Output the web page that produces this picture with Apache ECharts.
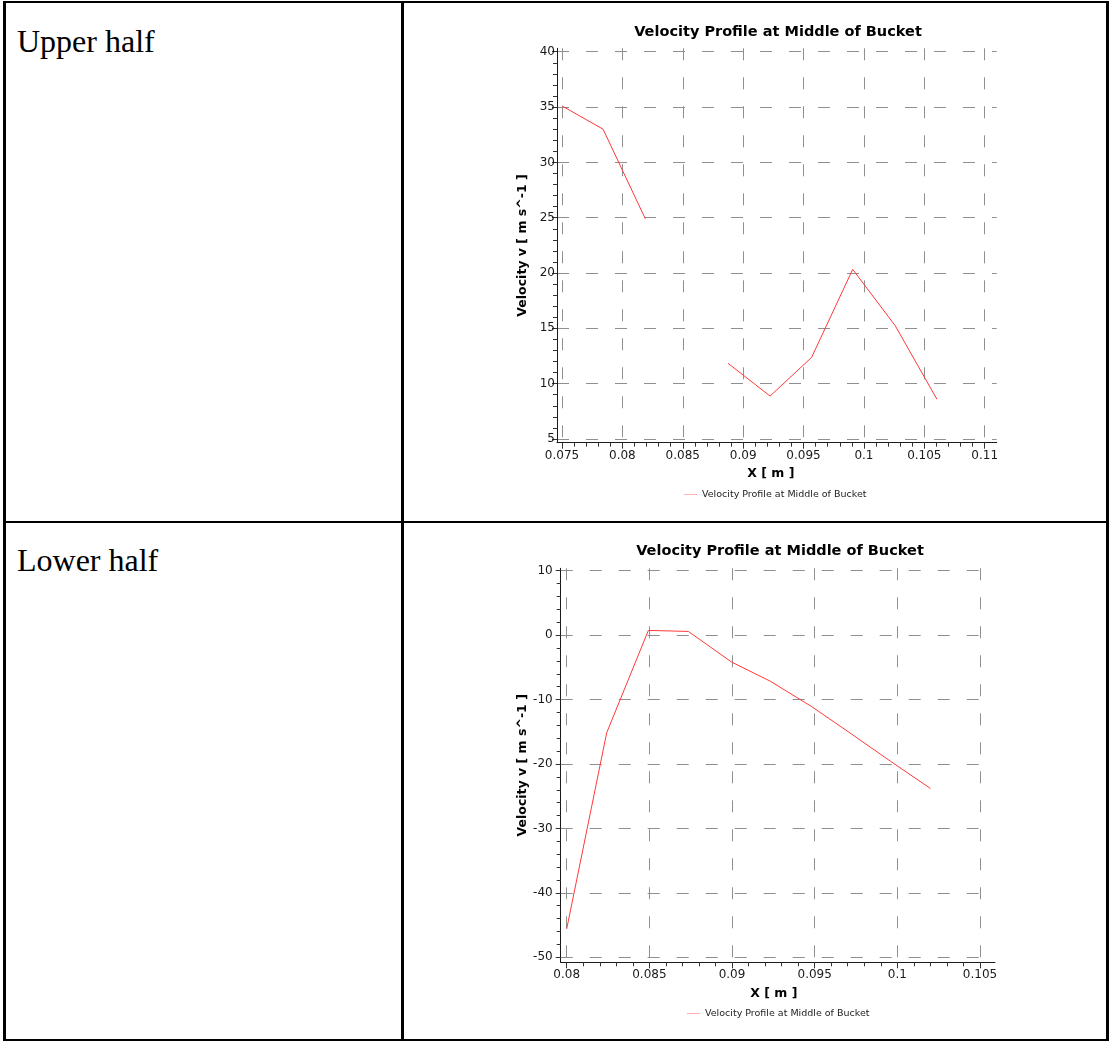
<!DOCTYPE html>
<html>
<head>
<meta charset="utf-8">
<title>Velocity Profile at Middle of Bucket</title>
<script src="https://cdn.jsdelivr.net/npm/echarts@6/dist/echarts.min.js"></script>
<style>
  html, body { margin: 0; padding: 0; background: #fff; }
  body { width: 1109px; height: 1041px; position: relative; overflow: hidden; }
  .rule { position: absolute; background: #000; z-index: 2; }
  .cell-label {
    position: absolute; left: 17px; margin: 0;
    font-family: "Liberation Serif", "Times New Roman", serif;
    font-size: 32px; line-height: 32px; color: #000; white-space: nowrap;
  }
  .chart { position: absolute; left: 0; width: 1109px; }
</style>
</head>
<body>
  <!-- table frame -->
  <div class="rule" style="left:3px; top:1px; width:1105px; height:2px;"></div>
  <div class="rule" style="left:3px; top:520.5px; width:1105px; height:2.5px;"></div>
  <div class="rule" style="left:3px; top:1038.5px; width:1105px; height:2.5px;"></div>
  <div class="rule" style="left:3px; top:1px; width:2.5px; height:1040px;"></div>
  <div class="rule" style="left:401px; top:1px; width:2.5px; height:1040px;"></div>
  <div class="rule" style="left:1106px; top:1px; width:2.5px; height:1040px;"></div>

  <div class="cell-label" style="top:25px;">Upper half</div>
  <div class="cell-label" style="top:544px;">Lower half</div>

  <div id="upper" class="chart" style="top:0; height:521px;"></div>
  <div id="lower" class="chart" style="top:521px; height:520px;"></div>

<script>
// Velocity samples along X [m] at the middle of the bucket
const SERIES_NAME = 'Velocity Profile at Middle of Bucket';

const upperX = [0.075, 0.0784, 0.0819, 0.0853, 0.08875, 0.09223, 0.09567, 0.09907, 0.10259, 0.10605];
const upperV = [35.1, 33.0, 24.9, null, 11.84, 8.88, 12.38, 20.33, 15.24, 8.59];

const lowerX = [0.08, 0.08242, 0.08494, 0.08736, 0.08998, 0.0923, 0.09482, 0.0972, 0.0996, 0.1020];
const lowerV = [-45.6, -15.15, 0.73, 0.57, -4.19, -7.13, -11.1, -15.3, -19.6, -23.8];

// Tick labels
const upperXTicks = [0.075, 0.08, 0.085, 0.09, 0.095, 0.1, 0.105, 0.11];
const upperYTicks = [5, 10, 15, 20, 25, 30, 35, 40];
const lowerXTicks = [0.08, 0.085, 0.09, 0.095, 0.1, 0.105];
const lowerYTicks = [-50, -40, -30, -20, -10, 0, 10];

const FONT = '"DejaVu Sans", Verdana, sans-serif';
const LINE_RED = '#ff3838';
const AXIS_DARK = '#1a1a1a';
const GRID_DASH = { color: '#8f8f8f', width: 1, type: [12, 17] };

function fmt(v) { return String(parseFloat(Number(v).toFixed(4))); }

function buildOption(c) {
  return {
    animation: false,
    title: {
      text: SERIES_NAME,
      left: c.titleX, top: c.titleTop, textAlign: 'center', padding: 0,
      textStyle: { fontFamily: FONT, fontSize: 14.5, fontWeight: 'bold', color: '#000' }
    },
    legend: {
      data: [SERIES_NAME],
      left: c.legendX, top: c.legendTop, padding: 0,
      icon: 'rect',
      itemWidth: 13, itemHeight: 1,
      itemStyle: { color: '#ffb0b0', borderWidth: 0 },
      textStyle: { fontFamily: FONT, fontSize: 9.5, color: '#222' }
    },
    grid: c.grid,
    xAxis: {
      type: 'value', min: c.xMin, max: c.xMax, splitNumber: c.xSplit,
      name: 'X [ m ]', nameLocation: 'middle', nameGap: 25,
      nameTextStyle: { fontFamily: FONT, fontSize: 12.5, fontWeight: 'bold', color: '#000', padding: c.xNamePad },
      axisLine: { show: true, onZero: false, lineStyle: { color: AXIS_DARK, width: 1 } },
      axisTick: { show: true, customValues: c.xTicks, length: 6, lineStyle: { color: '#333' } },
      minorTick: { show: true, splitNumber: 5, length: 4, lineStyle: { color: '#333' } },
      axisLabel: { customValues: c.xTicks, formatter: fmt, margin: 7, fontFamily: FONT, fontSize: 12, color: AXIS_DARK },
      splitLine: { show: true, lineStyle: GRID_DASH }
    },
    yAxis: {
      type: 'value', min: c.yMin, max: c.yMax, splitNumber: c.ySplit,
      name: 'Velocity v [ m s^-1 ]', nameLocation: 'middle', nameGap: c.yNameGap, nameRotate: 90,
      nameTextStyle: { fontFamily: FONT, fontSize: 12.5, fontWeight: 'bold', color: '#000' },
      axisLine: { show: true, onZero: false, lineStyle: { color: AXIS_DARK, width: 1 } },
      axisTick: { show: true, customValues: c.yTicks, length: 5, lineStyle: { color: '#333' } },
      minorTick: { show: true, splitNumber: 5, length: 4, lineStyle: { color: '#333' } },
      axisLabel: { customValues: c.yTicks, formatter: fmt, margin: c.yLabelMargin, fontFamily: FONT, fontSize: 12, color: AXIS_DARK },
      splitLine: { show: true, lineStyle: GRID_DASH }
    },
    series: [{
      type: 'line',
      name: SERIES_NAME,
      data: c.x.map((x, i) => [x, c.v[i] == null ? '-' : c.v[i]]),
      symbol: 'none',
      connectNulls: false,
      lineStyle: { color: LINE_RED, width: 1 },
      itemStyle: { color: LINE_RED }
    }]
  };
}

const upperChart = echarts.init(document.getElementById('upper'), null, { renderer: 'canvas' });
upperChart.setOption(buildOption({
  x: upperX, v: upperV, xTicks: upperXTicks, yTicks: upperYTicks,
  xMin: 0.074585, xMax: 0.110995, xSplit: 7,
  yMin: 4.666, yMax: 40.31, ySplit: 7,
  grid: { left: 557, right: 112.3, top: 48.3, bottom: 78.3 },
  titleX: 778, titleTop: 25,
  legendX: 684, legendTop: 489.5,
  xNamePad: [0, 12, 0, 0],
  yNameGap: 28, yLabelMargin: 2
}));

const lowerChart = echarts.init(document.getElementById('lower'), null, { renderer: 'canvas' });
lowerChart.setOption(buildOption({
  x: lowerX, v: lowerV, xTicks: lowerXTicks, yTicks: lowerYTicks,
  xMin: 0.079637, xMax: 0.105907, xSplit: 5,
  yMin: -50.78, yMax: 10.37, ySplit: 5,
  grid: { left: 560.7, right: 114, top: 47.3, bottom: 78.7 },
  titleX: 780, titleTop: 23,
  legendX: 687, legendTop: 487.5,
  xNamePad: [0, 8, 0, 0],
  yNameGap: 31, yLabelMargin: 8
}));
</script>
</body>
</html>
